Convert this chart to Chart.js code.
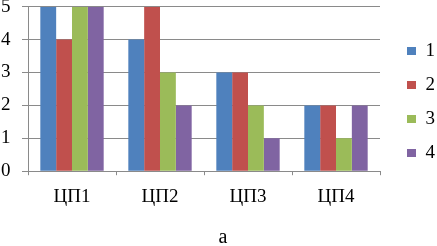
<!DOCTYPE html>
<html>
<head>
<meta charset="utf-8">
<script src="https://cdn.jsdelivr.net/npm/chart.js@4/dist/chart.umd.min.js"></script>
<style>
  html, body { margin: 0; padding: 0; background: #fff; }
  #wrap { width: 437px; height: 246px; }
</style>
</head>
<body>
<div id="wrap"><canvas id="chart"></canvas></div>
<script>
// 데이터
const categories = ['ЦП1', 'ЦП2', 'ЦП3', 'ЦП4'];
const seriesNames = ['1', '2', '3', '4'];
const series1 = [5, 4, 3, 2];
const series2 = [4, 5, 3, 2];
const series3 = [5, 3, 2, 1];
const series4 = [5, 2, 1, 2];
const yTicks = [0, 1, 2, 3, 4, 5];
const caption = 'а';

const colors = ['#4F81BD', '#C0504D', '#9BBB59', '#8064A2'];
const gridColor = '#8a8a8a';
const serif = "'Liberation Serif', 'Times New Roman', serif";

const ctx = document.getElementById('chart').getContext('2d');
new Chart(ctx, {
    type: 'bar',
    data: {
        labels: categories,
        datasets: [series1, series2, series3, series4].map((vals, i) => ({
            label: seriesNames[i],
            data: vals,
            backgroundColor: colors[i],
            borderWidth: 0,
            categoryPercentage: 0.72,
            barPercentage: 1.0
        }))
    },
    options: {
        responsive: true,
        maintainAspectRatio: false,
        animation: false,
        layout: {
            padding: { top: 0, right: -8, left: 1, bottom: 0 }
        },
        scales: {
            y: {
                min: 0,
                max: 5,
                afterBuildTicks: axis => {
                    axis.ticks = yTicks.map(v => ({ value: v }));
                },
                ticks: {
                    color: '#000',
                    crossAlign: 'far',
                    font: { family: serif, size: 19, lineHeight: 0.1 },
                    padding: 5.75
                },
                grid: {
                    color: gridColor,
                    lineWidth: 1,
                    tickLength: 6
                },
                border: { color: gridColor }
            },
            x: {
                ticks: {
                    color: '#000',
                    font: { family: serif, size: 19 },
                    padding: 10
                },
                grid: {
                    color: gridColor,
                    drawOnChartArea: false,
                    tickLength: 4,
                    offset: true
                },
                border: { color: gridColor }
            },
            // 범례와 그래프 사이 여백용 (보이지 않는 축)
            spacer: {
                type: 'linear',
                position: 'right',
                ticks: { display: false },
                grid: { display: false, drawTicks: true, tickLength: 12 },
                border: { display: false }
            }
        },
        plugins: {
            legend: {
                position: 'right',
                align: 'start',
                title: {
                    display: true,
                    text: '',
                    font: { size: 10, lineHeight: 1 },
                    padding: { top: 16.5, bottom: 0 }
                },
                labels: {
                    color: '#000',
                    boxWidth: 9,
                    boxHeight: 8,
                    padding: 15,
                    font: { family: serif, size: 19 }
                }
            },
            title: {
                display: true,
                position: 'bottom',
                text: caption,
                color: '#000',
                font: { family: serif, size: 20, weight: 'normal', lineHeight: 1 },
                padding: { top: 10, bottom: -2 }
            },
            tooltip: { enabled: false }
        }
    }
});
</script>
</body>
</html>
